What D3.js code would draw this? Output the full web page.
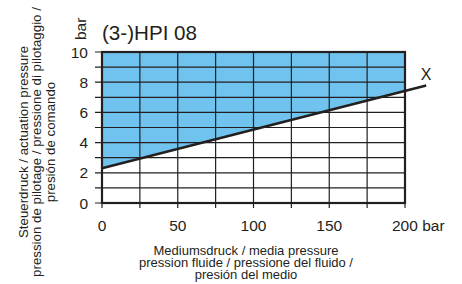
<!DOCTYPE html>
<html><head><meta charset="utf-8">
<script src="https://cdn.jsdelivr.net/npm/d3@7"></script>
<style>body{margin:0;background:#fff}svg{display:block}text{font-family:Arial,"Liberation Sans",sans-serif;fill:#231f20}</style>
</head><body>
<svg id="c" width="462" height="284"></svg>
<script>
const title = "(3-)HPI 08";
const xTicks = [0, 50, 100, 150, 200];
const yTicks = [0, 2, 4, 6, 8, 10];
const lineX = [0, 214];
const lineY = [2.3, 7.78];
const yLabel = ["Steuerdruck / actuation pressure", "pression de pilotage / pressione di pilotaggio /", "presión de comando"];
const xLabel = ["Mediumsdruck / media pressure", "pression fluide / pressione del fluido /", "presión del medio"];
const curveLabel = "X";

const svg = d3.select("#c");
const x = d3.scaleLinear().domain([0, 200]).range([102, 405]);
const y = d3.scaleLinear().domain([0, 10]).range([203, 52]);
const f = v => lineY[0] + (lineY[1] - lineY[0]) * (v - lineX[0]) / (lineX[1] - lineX[0]);

// fill area above line
const areaPts = [[0, f(0)], [200, f(200)], [200, 10], [0, 10]];
svg.append("path").attr("d", d3.line().x(d => x(d[0])).y(d => y(d[1]))(areaPts) + "Z")
  .attr("fill", "#70c3ee");

// grid
const g = svg.append("g").attr("stroke", "#231f20").attr("stroke-width", 1.2);
d3.range(0, 201, 25).forEach(v => {
  g.append("line").attr("x1", x(v)).attr("x2", x(v)).attr("y1", y(10)).attr("y2", y(0) + 5);
});
d3.range(0, 11, 1).forEach(v => {
  g.append("line").attr("x1", x(0) - 7).attr("x2", x(200)).attr("y1", y(v)).attr("y2", y(v));
});
// frame
svg.append("rect").attr("x", x(0)).attr("y", y(10)).attr("width", x(200) - x(0)).attr("height", y(0) - y(10))
  .attr("fill", "none").attr("stroke", "#231f20").attr("stroke-width", 2.2);

// curve
svg.append("line").attr("x1", x(lineX[0])).attr("y1", y(lineY[0])).attr("x2", x(lineX[1])).attr("y2", y(lineY[1]))
  .attr("stroke", "#231f20").attr("stroke-width", 2.4);
svg.append("text").attr("x", 426).attr("y", 80).attr("text-anchor", "middle").attr("font-size", 16).text(curveLabel);

// tick labels
svg.selectAll(".yt").data(yTicks).enter().append("text").attr("x", 88).attr("y", d => y(d) + 5.5)
  .attr("text-anchor", "end").attr("font-size", 15.5).text(d => d);
svg.selectAll(".xt").data(xTicks).enter().append("text")
  .attr("x", d => d === 200 ? x(d) - 13 : x(d)).attr("y", 231)
  .attr("text-anchor", d => d === 200 ? "start" : "middle").attr("font-size", 15.5)
  .text(d => d === 200 ? d + " bar" : d);
// y unit
svg.append("text").attr("transform", "translate(86,40) rotate(-90)").attr("font-size", 15.5).text("bar");
// title
svg.append("text").attr("x", 102).attr("y", 40).attr("font-size", 20.6).text(title);

// y axis label
const yl = svg.append("text").attr("transform", "translate(0,142) rotate(-90)").attr("text-anchor", "middle").attr("font-size", 13.3);
yLabel.forEach((t, i) => yl.append("tspan").attr("x", 0).attr("y", 28 + i * 13.3).text(t));
// x axis label
const xl = svg.append("text").attr("text-anchor", "middle").attr("font-size", 13);
xLabel.forEach((t, i) => xl.append("tspan").attr("x", 246).attr("y", 254.5 + i * 12.4).text(t));
</script>
</body></html>
